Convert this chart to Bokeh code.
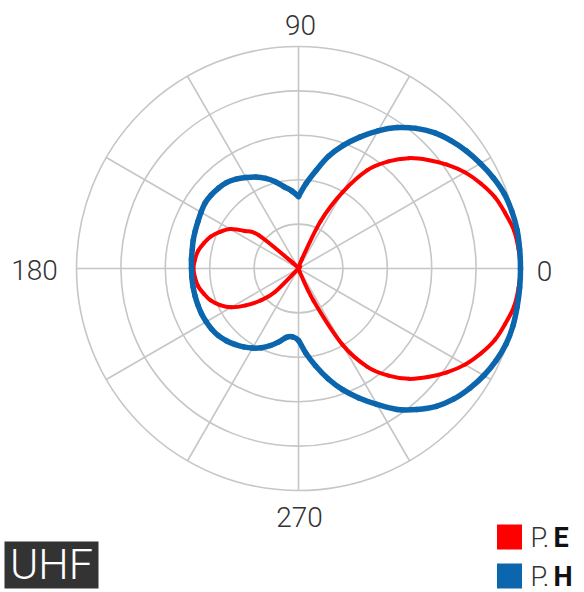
import numpy as np
from bokeh.plotting import figure
from bokeh.models import Range1d
from bokeh.core.properties import value
from bokeh.embed import file_html
from bokeh.resources import INLINE

# ---------------- data ----------------
angles_deg = list(range(0, 360, 5))

# P.E (red) relative gain, 0..355 deg step 5
pe_gain = [1.000, 0.995, 0.986, 0.964, 0.941, 0.906, 0.866, 0.816, 0.761, 0.703,
           0.630, 0.541, 0.396, 0.234, 0.045, 0.0, 0.0, 0.0, 0.0, 0.0,
           0.0, 0.0, 0.0, 0.0, 0.0, 0.0, 0.0, 0.036, 0.234, 0.295,
           0.356, 0.390, 0.421, 0.441, 0.459, 0.468, 0.473, 0.468, 0.459, 0.441,
           0.421, 0.390, 0.350, 0.290, 0.224, 0.150, 0.0, 0.0, 0.0, 0.0,
           0.0, 0.0, 0.0, 0.0, 0.0, 0.0, 0.0, 0.0, 0.020, 0.160,
           0.396, 0.541, 0.630, 0.703, 0.761, 0.816, 0.866, 0.906, 0.941, 0.964,
           0.986, 0.995]

# P.H (blue) relative gain, 0..355 deg step 5
ph_gain = [1.000, 1.000, 1.000, 0.995, 0.986, 0.968, 0.946, 0.923, 0.896, 0.865,
           0.824, 0.775, 0.716, 0.653, 0.590, 0.523, 0.446, 0.383, 0.324, 0.351,
           0.374, 0.405, 0.432, 0.455, 0.473, 0.491, 0.505, 0.511, 0.514, 0.514,
           0.507, 0.500, 0.495, 0.491, 0.486, 0.484, 0.482, 0.482, 0.482, 0.482,
           0.482, 0.482, 0.480, 0.477, 0.471, 0.460, 0.446, 0.431, 0.414, 0.394,
           0.369, 0.342, 0.315, 0.309, 0.324, 0.383, 0.446, 0.514, 0.581, 0.644,
           0.707, 0.775, 0.829, 0.878, 0.914, 0.941, 0.964, 0.982, 0.995, 1.000,
           1.000, 1.000]
ph_corner_angles = [90]

ring_values = [0.2, 0.4, 0.6, 0.8, 1.0]
spoke_angles = list(range(0, 360, 30))
angle_labels = ["0", "90", "180", "270"]
label_angles = [0, 90, 180, 270]
series_names = ["P.", "P."]
series_bold = ["E", "H"]
series_colors = ["#ff0000", "#0b66ae"]
badge_text = "UHF"

# ---------------- layout ----------------
W, H = 584, 592
S = 222.0            # px per unit radius
CX, CY = 298, 268    # center in px


def pg(x, y):
    """pixel -> data coords"""
    return (x - CX) / S, (CY - y) / S


p = figure(width=W, height=H, output_backend="svg", toolbar_location=None,
           x_range=Range1d(-CX / S, (W - CX) / S),
           y_range=Range1d(-(H - CY) / S, CY / S),
           min_border=0)
p.axis.visible = False
p.grid.visible = False
p.outline_line_color = None
p.background_fill_color = "white"
p.border_fill_color = "white"

grid_col = "#c6c6c6"
p.circle(x=[0] * len(ring_values), y=[0] * len(ring_values), radius=ring_values,
         fill_color=None, line_color=grid_col, line_width=1.6)
sa = np.deg2rad(spoke_angles)
p.segment(x0=[0] * len(sa), y0=[0] * len(sa), x1=np.cos(sa), y1=np.sin(sa),
          line_color=grid_col, line_width=1.6)


def smooth_closed(ang, r, corners=()):
    """Closed Catmull-Rom curve through the polar points, drawn as bezier pieces."""
    a = np.deg2rad(np.array(ang, dtype=float))
    rr = np.array(r, dtype=float)
    x, y = rr * np.cos(a), rr * np.sin(a)
    n = len(x)
    cidx = {ang.index(c) for c in corners}
    tx = np.zeros(n)
    ty = np.zeros(n)
    for i in range(n):
        if i in cidx:
            continue
        tx[i] = (x[(i + 1) % n] - x[(i - 1) % n]) / 6.0
        ty[i] = (y[(i + 1) % n] - y[(i - 1) % n]) / 6.0
    j = (np.arange(n) + 1) % n
    return dict(x0=x, y0=y, x1=x[j], y1=y[j],
                cx0=x + tx, cy0=y + ty, cx1=x[j] - tx[j], cy1=y[j] - ty[j])


be = smooth_closed(angles_deg, pe_gain)
bh = smooth_closed(angles_deg, ph_gain, ph_corner_angles)
p.bezier(**be, line_color=series_colors[0], line_width=4, line_cap="round")
p.bezier(**bh, line_color=series_colors[1], line_width=5.5, line_cap="round")

# angle labels
lab_pos = {0: pg(544, 270), 90: pg(300, 24), 180: pg(34, 269), 270: pg(299, 516)}
lx = [lab_pos[a][0] for a in label_angles]
ly = [lab_pos[a][1] for a in label_angles]
p.text(x=lx, y=ly, text=angle_labels, text_font=value("Roboto Light"),
       text_font_size="28px", text_align="center", text_baseline="middle",
       text_color="#333333")

# UHF badge
bx, by = pg(51, 564.5)
p.rect(x=[bx], y=[by], width=[94], height=[47], width_units="screen",
       height_units="screen", fill_color="#333333", line_color=None)
p.text(x=[bx], y=[by + 1 / S], text=[badge_text], text_font=value("Roboto Light"),
       text_font_size="43px", text_align="center", text_baseline="middle",
       text_color="white")

# legend
sq_y = [536.5, 575.5]
for i in range(2):
    qx, qy = pg(509, sq_y[i])
    p.rect(x=[qx], y=[qy], width=[25], height=[25], width_units="screen",
           height_units="screen", fill_color=series_colors[i], line_color=None)
    tx, ty = pg(530, sq_y[i] + 1)
    p.text(x=[tx], y=[ty], text=[series_names[i]], text_font=value("Roboto Light"),
           text_font_size="27px", text_align="left", text_baseline="middle",
           text_color="#333333")
    tx2, _ = pg(553, sq_y[i])
    p.text(x=[tx2], y=[ty], text=[series_bold[i]], text_font=value("Roboto"),
           text_font_style="bold", text_font_size="27px", text_align="left",
           text_baseline="middle", text_color="#111111")

open("out.html", "w").write(file_html(p, INLINE))
